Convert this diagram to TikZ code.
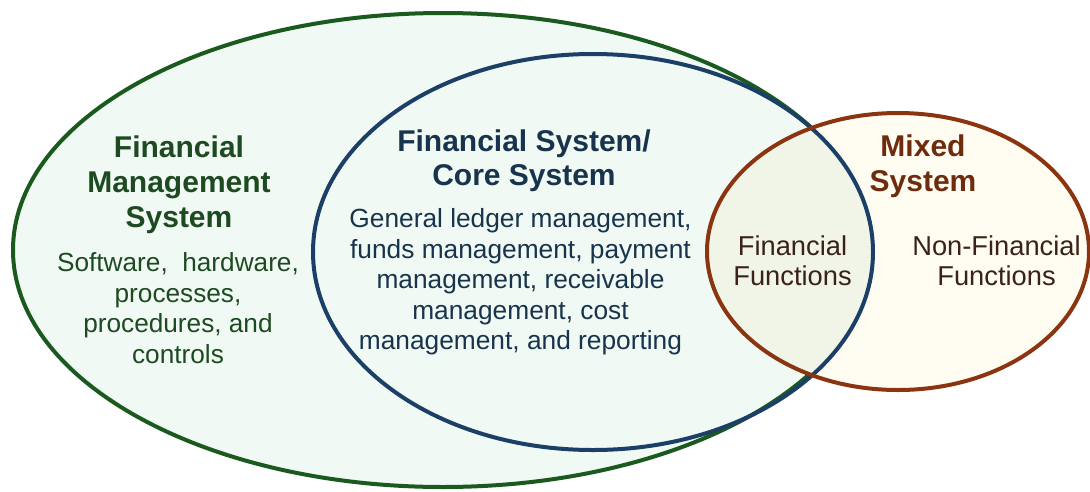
\documentclass[tikz,border=0pt]{standalone}
\usepackage{fontspec}
\setmainfont{Liberation Sans}
\begin{document}
\definecolor{fmsline}{HTML}{1B5A1E}
\definecolor{coreline}{HTML}{1B3F66}
\definecolor{mixline}{HTML}{8A3510}
\definecolor{mintfill}{HTML}{F0F9F4}
\definecolor{creamfill}{HTML}{FFFDF1}
\definecolor{bothfill}{HTML}{F0F5E8}
\definecolor{fmstext}{HTML}{1D4A20}
\definecolor{coretext}{HTML}{17344C}
\definecolor{mixhead}{HTML}{6E2C0E}
\definecolor{mixtext}{HTML}{3A2216}
\begin{tikzpicture}[x=1pt,y=-1pt,
  ring/.style={line width=4pt},
  headtxt/.style={font=\bfseries\fontsize{30}{35.3}\selectfont, align=center, inner sep=0pt, anchor=north},
  bodytxt/.style={font=\fontsize{26.2}{30.4}\selectfont, align=center, inner sep=0pt, anchor=north},
  mixtxt/.style={font=\fontsize{27.3}{30.7}\selectfont, align=center, inner sep=0pt, anchor=north, text=mixtext}]
\useasboundingbox (0,0) rectangle (1090,491);

% centres of the three sets
\coordinate (fmsc) at (443,250);
\coordinate (corec) at (593,252);
\coordinate (mixc) at (898,251.5);

% financial management system (outer set)
\path[ring, draw=fmsline, fill=mintfill] (fmsc) ellipse [x radius=430pt, y radius=237pt];
% mixed system
\fill[creamfill] (mixc) ellipse [x radius=191pt, y radius=138.5pt];
% overlap of core and mixed systems
\begin{scope}
  \clip (corec) ellipse [x radius=280pt, y radius=198pt];
  \fill[bothfill] (mixc) ellipse [x radius=191pt, y radius=138.5pt];
\end{scope}
% core system outline
\draw[ring, coreline] (corec) ellipse [x radius=280pt, y radius=198pt];
% mixed system outline
\draw[ring, mixline] (mixc) ellipse [x radius=191pt, y radius=138.5pt];

% labels
\node[headtxt, text=fmstext] (fmshead) at (179,135.1) {Financial\\Management\\System};
\node[bodytxt, text=fmstext] (fmsbody) at (178,252.8) {Software,\ \ hardware,\\processes,\\procedures,\ and\\controls};

\node[headtxt, text=coretext, font=\bfseries\fontsize{30}{34.3}\selectfont] (corehead) at (524,129.1) {Financial System/\\Core System};
\node[bodytxt, text=coretext, font=\fontsize{26.3}{30.5}\selectfont] (corebody) at (520.5,208.4) {General ledger management,\\funds management, payment\\management, receivable\\management, cost\\management, and reporting};

\node[headtxt, text=mixhead] (mixhead) at (923,134.4) {Mixed\\System};
\node[mixtxt] (finfun) at (792.5,235.3) {Financial\\Functions};
\node[mixtxt] (nonfin) at (996.5,235.3) {Non-Financial\\Functions};
\end{tikzpicture}
\end{document}
